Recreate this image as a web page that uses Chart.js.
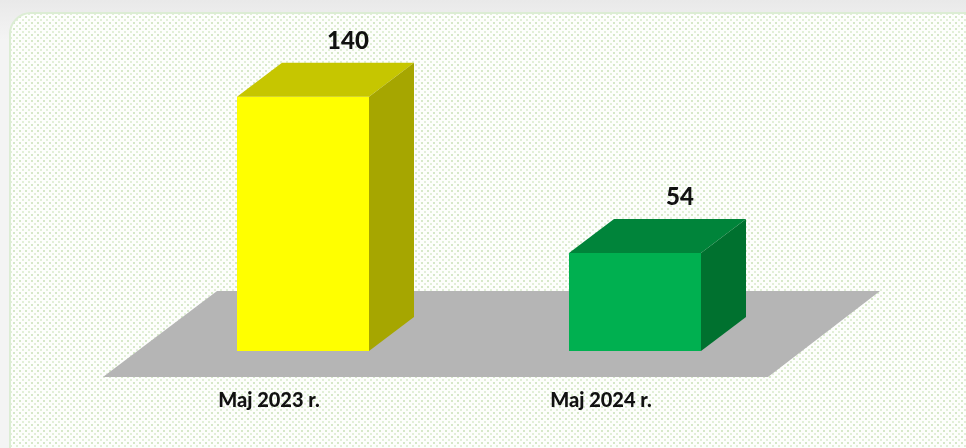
<!DOCTYPE html>
<html lang="pl">
<head>
    <meta charset="UTF-8">
    <title>Maj 2023 / Maj 2024</title>
    <script src="https://cdn.jsdelivr.net/npm/chart.js"></script>
    <style>
        html, body {
            margin: 0;
            padding: 0;
            width: 966px;
            height: 448px;
            overflow: hidden;
            background: linear-gradient(#e9e9e9, #f4f4f4 40px, #f4f4f4);
        }

        .panel {
            position: absolute;
            left: 9px;
            top: 12px;
            width: 990px;
            height: 470px;
            border: 2px solid #dcedd4;
            border-radius: 22px;
            background-color: #fdfefc;
            background-image:
                radial-gradient(circle, #d6e8c9 0.9px, transparent 1.4px),
                radial-gradient(circle, #e2efd8 0.9px, transparent 1.4px);
            background-size: 6px 6px, 6px 6px;
            background-position: 0 0, 3px 3px;
        }

        #chart {
            position: absolute;
            left: 0;
            top: 0;
        }
    </style>
</head>
<body>
    <div class="panel"></div>
    <canvas id="chart" width="966" height="448"></canvas>

    <script>
        const categories = ['Maj 2023 r.', 'Maj 2024 r.'];
        const values = [140, 54];
        const frontColors = ['#ffff00', '#00b050'];
        const topColors = ['#c6c600', '#00843a'];
        const sideColors = ['#a6a600', '#00712f'];

        // depth of the 3d boxes
        const DX = 45;
        const DY = -34;

        const floorPlugin = {
            id: 'floor',
            beforeDatasetsDraw(chart) {
                const { ctx, chartArea } = chart;
                const b = chartArea.bottom;
                ctx.save();
                ctx.fillStyle = '#b5b5b5';
                ctx.beginPath();
                ctx.moveTo(chartArea.left + 80, b - 60);
                ctx.lineTo(chartArea.right + 79, b - 60);
                ctx.lineTo(chartArea.right - 33, b + 26);
                ctx.lineTo(chartArea.left - 34, b + 26);
                ctx.closePath();
                ctx.fill();
                ctx.restore();
            }
        };

        const boxPlugin = {
            id: 'box3d',
            afterDatasetsDraw(chart) {
                const ctx = chart.ctx;
                const meta = chart.getDatasetMeta(0);
                ctx.save();
                meta.data.forEach((bar, i) => {
                    const l = bar.x - bar.width / 2;
                    const r = bar.x + bar.width / 2;
                    const t = bar.y;
                    const bt = bar.base;

                    // top face
                    ctx.fillStyle = topColors[i];
                    ctx.beginPath();
                    ctx.moveTo(l, t);
                    ctx.lineTo(l + DX, t + DY);
                    ctx.lineTo(r + DX, t + DY);
                    ctx.lineTo(r, t);
                    ctx.closePath();
                    ctx.fill();

                    // side face
                    ctx.fillStyle = sideColors[i];
                    ctx.beginPath();
                    ctx.moveTo(r, t);
                    ctx.lineTo(r + DX, t + DY);
                    ctx.lineTo(r + DX, bt + DY);
                    ctx.lineTo(r, bt);
                    ctx.closePath();
                    ctx.fill();

                    // value label above the back of the box
                    ctx.fillStyle = '#111';
                    ctx.font = '900 24px Lato, "DejaVu Sans", sans-serif';
                    ctx.textAlign = 'center';
                    ctx.textBaseline = 'alphabetic';
                    ctx.fillText(values[i], bar.x + DX, t + DY - 14);
                });
                ctx.restore();
            }
        };

        new Chart(document.getElementById('chart').getContext('2d'), {
            type: 'bar',
            data: {
                labels: categories,
                datasets: [{
                    data: values,
                    backgroundColor: frontColors,
                    borderWidth: 0,
                    categoryPercentage: 1,
                    barPercentage: 0.3976
                }]
            },
            options: {
                responsive: false,
                animation: false,
                layout: {
                    padding: { left: 137, right: 165, top: 24, bottom: 0 }
                },
                plugins: {
                    legend: { display: false },
                    tooltip: { enabled: false }
                },
                scales: {
                    x: {
                        grid: { display: false, drawTicks: false },
                        border: { display: false },
                        ticks: {
                            color: '#111',
                            font: { family: 'Lato, "DejaVu Sans", sans-serif', size: 20, weight: '900' },
                            labelOffset: -34,
                            padding: 38
                        },
                        afterFit(scale) {
                            scale.height = 97;
                        }
                    },
                    y: {
                        display: false,
                        min: 0,
                        max: 180
                    }
                }
            },
            plugins: [floorPlugin, boxPlugin]
        });
    </script>
</body>
</html>
